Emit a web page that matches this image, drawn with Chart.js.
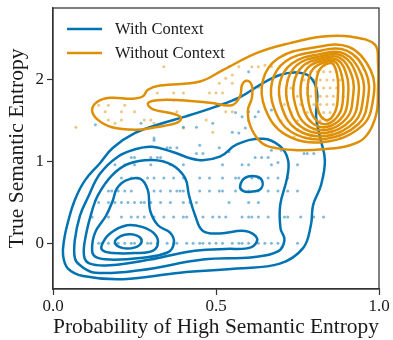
<!DOCTYPE html>
<html>
<head>
<meta charset="utf-8">
<script src="https://cdn.jsdelivr.net/npm/chart.js@4.4.0/dist/chart.umd.min.js"></script>
<style>
  html, body { margin: 0; padding: 0; background: #fff; }
  #wrap { width: 393px; height: 340px; }
</style>
</head>
<body>
<div id="wrap"><canvas id="kde"></canvas></div>
<script>
const blueColor = '#0173b2';
const orangeColor = '#de8f05';
const seriesNames = ['With Context', 'Without Context'];
const xTicks = [0, 0.5, 1];
const yTicks = [0, 1, 2];

// contour lines, [x, y] in data units
const withCtxLevel1 = [[.031,-.15],[.034,.04],[.046,.26],[.067,.53],[.098,.77],[.144,.98],[.184,1.17],[.252,1.35],[.328,1.46],[.405,1.55],[.497,1.67],[.574,1.79],[.635,1.94],[.696,2.06],[.748,2.09],[.788,2.04],[.810,1.85],[.807,1.55],[.819,1.30],[.834,1.02],[.822,.71],[.798,.47],[.791,.22],[.767,-.06],[.696,-.25],[.564,-.31],[.390,-.36],[.215,-.44],[.092,-.40],[.046,-.31]];
const withCtxLevel2 = [[.067,-.18],[.067,.04],[.083,.34],[.107,.56],[.144,.85],[.199,1.06],[.252,1.15],[.304,1.18],[.365,1.12],[.445,1.02],[.512,1.06],[.564,1.21],[.644,1.28],[.696,1.19],[.721,1.02],[.718,.80],[.697,.47],[.698,.18],[.710,.04],[.690,-.10],[.613,-.17],[.460,-.20],[.267,-.33],[.129,-.36],[.083,-.27]];
const withCtxLevel3 = [[.095,-.15],[.101,.10],[.120,.40],[.138,.59],[.181,.83],[.230,.97],[.304,1.02],[.365,.96],[.405,.80],[.417,.59],[.436,.34],[.460,.15],[.512,.12],[.589,.15],[.626,.06],[.607,-.05],[.528,-.07],[.420,-.10],[.298,-.20],[.175,-.27],[.113,-.25]];
const withCtxLevel4 = [[.120,-.09],[.129,.13],[.163,.34],[.184,.53],[.196,.67],[.224,.77],[.267,.79],[.291,.65],[.298,.40],[.322,.22],[.359,.13],[.371,.01],[.353,-.11],[.267,-.18],[.175,-.20],[.132,-.17]];
const withCtxLevel5 = [[.150,-.02],[.175,.12],[.227,.22],[.273,.20],[.310,.12],[.322,.01],[.307,-.09],[.252,-.12],[.184,-.12],[.153,-.09]];
const withCtxLevel6 = [[.190,.01],[.209,.09],[.239,.11],[.267,.07],[.270,0],[.252,-.05],[.215,-.06]];
const withCtxIsland = [[.574,.70],[.589,.80],[.620,.82],[.641,.77],[.638,.67],[.607,.63],[.583,.64]];

const noCtxLevel1 = [[.120,1.63],[.135,1.73],[.175,1.78],[.245,1.77],[.276,1.80],[.291,1.88],[.328,1.93],[.451,1.98],[.521,2.12],[.626,2.33],[.727,2.45],[.828,2.53],[.911,2.53],[.988,2.43],[.997,2.22],[.997,1.88],[.991,1.57],[.960,1.31],[.911,1.20],[.828,1.15],[.748,1.14],[.666,1.18],[.632,1.26],[.604,1.45],[.598,1.63],[.610,1.78],[.610,1.93],[.595,1.99],[.580,1.94],[.574,1.80],[.549,1.69],[.482,1.72],[.390,1.75],[.319,1.75],[.291,1.71],[.307,1.64],[.374,1.58],[.393,1.53],[.377,1.47],[.313,1.42],[.252,1.39],[.181,1.42],[.135,1.52]];
const noCtxLevel2 = [[.691,2.265],[.796,2.393],[.907,2.405],[.975,2.113],[.982,1.764],[.948,1.437],[.830,1.239],[.712,1.333],[.651,1.647],[.644,1.997]];
const noCtxLevel3 = [[.713,2.226],[.804,2.345],[.902,2.356],[.960,2.086],[.966,1.762],[.937,1.460],[.834,1.276],[.731,1.362],[.678,1.654],[.672,1.978]];
const noCtxLevel4 = [[.732,2.199],[.811,2.309],[.895,2.319],[.946,2.067],[.951,1.766],[.925,1.483],[.837,1.313],[.747,1.394],[.702,1.665],[.696,1.967]];
const noCtxLevel5 = [[.748,2.181],[.816,2.285],[.888,2.294],[.931,2.058],[.936,1.775],[.914,1.510],[.837,1.350],[.761,1.425],[.722,1.681],[.718,1.963]];
const noCtxLevel6 = [[.765,2.164],[.821,2.261],[.880,2.270],[.917,2.049],[.920,1.784],[.902,1.536],[.839,1.387],[.775,1.457],[.743,1.696],[.739,1.961]];
const noCtxLevel7 = [[.781,2.147],[.826,2.237],[.873,2.245],[.902,2.040],[.905,1.793],[.891,1.563],[.840,1.423],[.790,1.490],[.764,1.711],[.761,1.958]];
const noCtxLevel8 = [[.797,2.130],[.831,2.213],[.866,2.221],[.887,2.031],[.890,1.802],[.879,1.589],[.841,1.460],[.804,1.521],[.784,1.726],[.782,1.955]];
const noCtxLevel9 = [[.816,2.114],[.837,2.189],[.859,2.196],[.873,2.025],[.874,1.818],[.867,1.626],[.844,1.509],[.820,1.564],[.808,1.750],[.807,1.956]];

// sample points: [y, [x, x, ...]] rows
const withCtxRows = [
  [0, [.14,.15,.17,.19,.2,.22,.24,.25,.27,.29,.3,.32,.35,.37,.38,.41,.43,.45,.46,.48,.5,.52,.55,.57,.58,.6,.63,.65,.67,.69,.75]],
  [.32, [.12,.17,.21,.24,.26,.28,.31,.34,.37,.40,.41,.46,.49,.51,.53,.58,.6,.61,.63,.66,.71,.72,.76,.8,.83]],
  [.5, [.14,.17,.19,.21,.23,.25,.27,.28,.3,.33,.36,.4,.42,.44,.54,.6,.63]],
  [.64, [.17,.18,.2,.22,.24,.31,.33,.36,.38,.39,.4,.45,.48,.51,.52,.56,.6,.63,.66,.69,.72,.75]],
  [.8, [.21,.24,.26,.29,.31,.34,.37,.4,.45,.48,.52,.56,.57,.61,.63,.66,.69,.72]],
  [.96, [.19,.22,.25,.3,.36,.4,.52,.58,.6,.67,.75]],
  [1.05, [.24,.25,.3,.32,.33,.62,.64,.66]]
];
const withCtxExtra = [[.35,1.17],[.36,1.17],[.31,1.29],[.44,1.10],[.49,1.47],[.40,1.42],[.44,1.42],[.56,1.60],[.6,1.61],[.63,1.61],[.55,1.36],[.57,1.35],[.38,1.17],[.45,1.2],[.51,1.17],[.54,1.12],[.67,1.14],[.69,.99],[.7,1.14],[.75,1.39],[.78,1.1],[.8,1.1],[.6,2.1],[.54,2.16],[.46,1.1],[.59,1.41],[.58,1.55],[.67,1.63],[.77,1.1],[.27,1.47],[.31,1.26],[.13,1.45],[.62,1.55],[.6,1.5]];
const noCtxRows = [
  [2.2, [.78,.8,.82,.84,.86]],
  [2.1, [.74,.79,.81,.83,.85,.87]],
  [2.0, [.72,.77,.8,.82,.84,.86,.88]],
  [1.9, [.73,.78,.81,.83,.85,.87]],
  [1.8, [.75,.79,.82,.84,.86,.89]],
  [1.7, [.71,.76,.8,.82,.84,.86]],
  [1.6, [.73,.78,.81,.83,.85,.88]],
  [1.5, [.7,.75,.79,.82,.84,.86]],
  [1.4, [.72,.77,.8,.83,.85]],
  [1.3, [.74,.79,.82,.85,.88]]
];
const noCtxExtra = [[.14,1.69],[.17,1.69],[.22,1.69],[.25,1.61],[.17,1.51],[.19,1.47],[.21,1.51],[.28,1.51],[.3,1.51],[.37,1.75],[.34,2.16],[.32,1.84],[.37,1.84],[.4,1.84],[.07,1.42],[.48,1.84],[.5,1.84],[.52,1.84],[.51,1.96],[.53,2.02],[.61,2.16],[.57,2.16],[.53,1.61],[.47,1.51],[.38,1.61],[.49,1.36],[.4,1.41],[.31,1.47],[.16,1.61],[.21,1.61],[.55,2.06],[.55,1.96],[.55,1.61],[.63,2.16],[.65,2.18],[.67,2.16],[.63,1.91]];

const serif = "'Liberation Serif', 'DejaVu Serif', serif";

function toXY(pts) { return pts.map(p => ({ x: p[0], y: p[1] })); }
function rowsToXY(rows, extra) {
  const out = [];
  rows.forEach(r => r[1].forEach(x => out.push({ x: x, y: r[0] })));
  extra.forEach(p => out.push({ x: p[0], y: p[1] }));
  return out;
}
function contour(pts, color, order) {
  return { data: toXY(pts), showLine: true, closed: true, borderColor: color, borderWidth: 2.5,
           pointRadius: 0, pointHoverRadius: 0, tension: 0.4, fill: false, order: order };
}
function dots(data, color) {
  return { data: data, showLine: false, pointRadius: 1.5, pointBorderWidth: 0,
           backgroundColor: color, borderColor: color, order: 10 };
}

const datasets = [];
[noCtxLevel1, noCtxLevel2, noCtxLevel3, noCtxLevel4, noCtxLevel5, noCtxLevel6, noCtxLevel7, noCtxLevel8, noCtxLevel9]
  .forEach(c => datasets.push(contour(c, orangeColor, 1)));
[withCtxLevel1, withCtxLevel2, withCtxLevel3, withCtxLevel4, withCtxLevel5, withCtxLevel6, withCtxIsland]
  .forEach(c => datasets.push(contour(c, blueColor, 2)));
datasets.push(dots(rowsToXY(withCtxRows, withCtxExtra), 'rgba(1,115,178,0.5)'));
datasets.push(dots(rowsToXY(noCtxRows, noCtxExtra), 'rgba(222,143,5,0.5)'));

// make the contour lines closed, smooth loops
const closeLoops = {
  id: 'closeLoops',
  afterDatasetUpdate(chart, args) {
    const ds = chart.data.datasets[args.index];
    if (ds.closed && args.meta.dataset) {
      args.meta.dataset._loop = true;
      args.meta.dataset._fullLoop = true;
    }
  }
};

const frameAndLegend = {
  id: 'frameAndLegend',
  afterDraw(chart) {
    const ctx = chart.ctx;
    const a = chart.chartArea;
    ctx.save();
    ctx.strokeStyle = '#333';
    ctx.lineWidth = 1.25;
    ctx.strokeRect(a.left, a.top, a.right - a.left, a.bottom - a.top);
    const colors = [blueColor, orangeColor];
    ctx.font = '16.5px ' + serif;
    ctx.textBaseline = 'middle';
    ctx.fillStyle = '#1a1a1a';
    seriesNames.forEach((name, i) => {
      const y = a.top + 21 + i * 24;
      ctx.strokeStyle = colors[i];
      ctx.lineWidth = 2.5;
      ctx.beginPath();
      ctx.moveTo(a.left + 14, y);
      ctx.lineTo(a.left + 49, y);
      ctx.stroke();
      ctx.fillText(name, a.left + 62, y + 1);
    });
    ctx.restore();
  }
};

new Chart(document.getElementById('kde'), {
  type: 'scatter',
  data: { datasets: datasets },
  options: {
    responsive: true,
    maintainAspectRatio: false,
    animation: false,
    layout: { padding: { top: 8, right: 14, left: 0, bottom: 0 } },
    plugins: { legend: { display: false }, tooltip: { enabled: false } },
    scales: {
      x: {
        type: 'linear', min: 0, max: 1,
        afterFit: s => { s.height = 51; },
        afterBuildTicks: s => { s.ticks = xTicks.map(v => ({ value: v })); },
        ticks: { font: { family: serif, size: 17 }, color: '#1a1a1a', padding: 1,
                 callback: v => v.toFixed(1), maxRotation: 0 },
        grid: { drawOnChartArea: false, tickLength: 6, color: '#333', tickWidth: 1.2 },
        border: { color: '#333', width: 1.25 },
        title: { display: true, text: 'Probability of High Semantic Entropy',
                 font: { family: serif, size: 21.5 }, color: '#1a1a1a', padding: { top: 0, bottom: 0 } }
      },
      y: {
        type: 'linear', min: -0.56, max: 2.88,
        afterFit: s => { s.width = 53; s.paddingTop = 0; s.paddingBottom = 0; },
        afterBuildTicks: s => { s.ticks = yTicks.map(v => ({ value: v })); },
        ticks: { font: { family: serif, size: 17 }, color: '#1a1a1a', padding: 3 },
        grid: { drawOnChartArea: false, tickLength: 6, color: '#333', tickWidth: 1.2 },
        border: { color: '#333', width: 1.25 },
        title: { display: true, text: 'True Semantic Entropy',
                 font: { family: serif, size: 21.5 }, color: '#1a1a1a', padding: { top: 4, bottom: 0 } }
      }
    }
  },
  plugins: [closeLoops, frameAndLegend]
});
</script>
</body>
</html>
